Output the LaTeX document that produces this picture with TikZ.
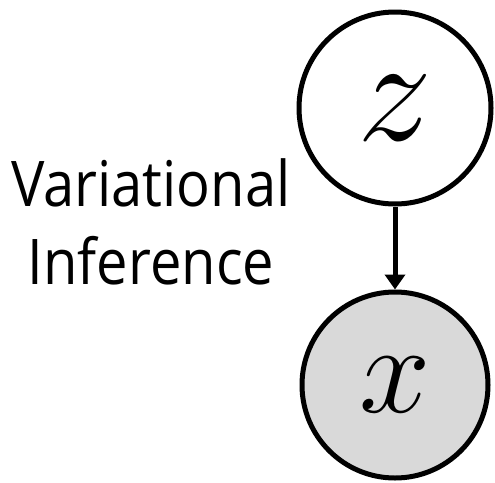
\documentclass[tikz,border=0pt]{standalone}
\usepackage{fix-cm}
\usepackage{fontspec}
\setsansfont{Open Sans}[FakeStretch=0.89]
\usetikzlibrary{positioning, arrows.meta}

\definecolor{obsgray}{RGB}{217,217,217}

\begin{document}
\begin{tikzpicture}[
  x=1pt, y=1pt,
  font=\sffamily,
  latent/.style={draw, circle, line width=5pt, fill=white, inner sep=0pt,
                 minimum size=192pt, font=\fontsize{150}{150}\selectfont},
  observed/.style={latent, fill=obsgray, minimum size=186pt,
                   font=\fontsize{128}{128}\selectfont},
  label/.style={align=center, inner sep=0pt,
                font=\sffamily\fontsize{63}{78}\selectfont},
  edge/.style={-{Triangle[width=20pt, length=15pt]}, line width=5pt},
]

\useasboundingbox (0,0) rectangle (495,-482);

\node[latent] (z) at (395,-108) {$z$};
\node[observed] (x) at (395,-385) {$x$};

\node[label] (vi) at (151,-222) {Variational\\Inference};

\draw[edge] (z) -- (x);

\end{tikzpicture}
\end{document}
